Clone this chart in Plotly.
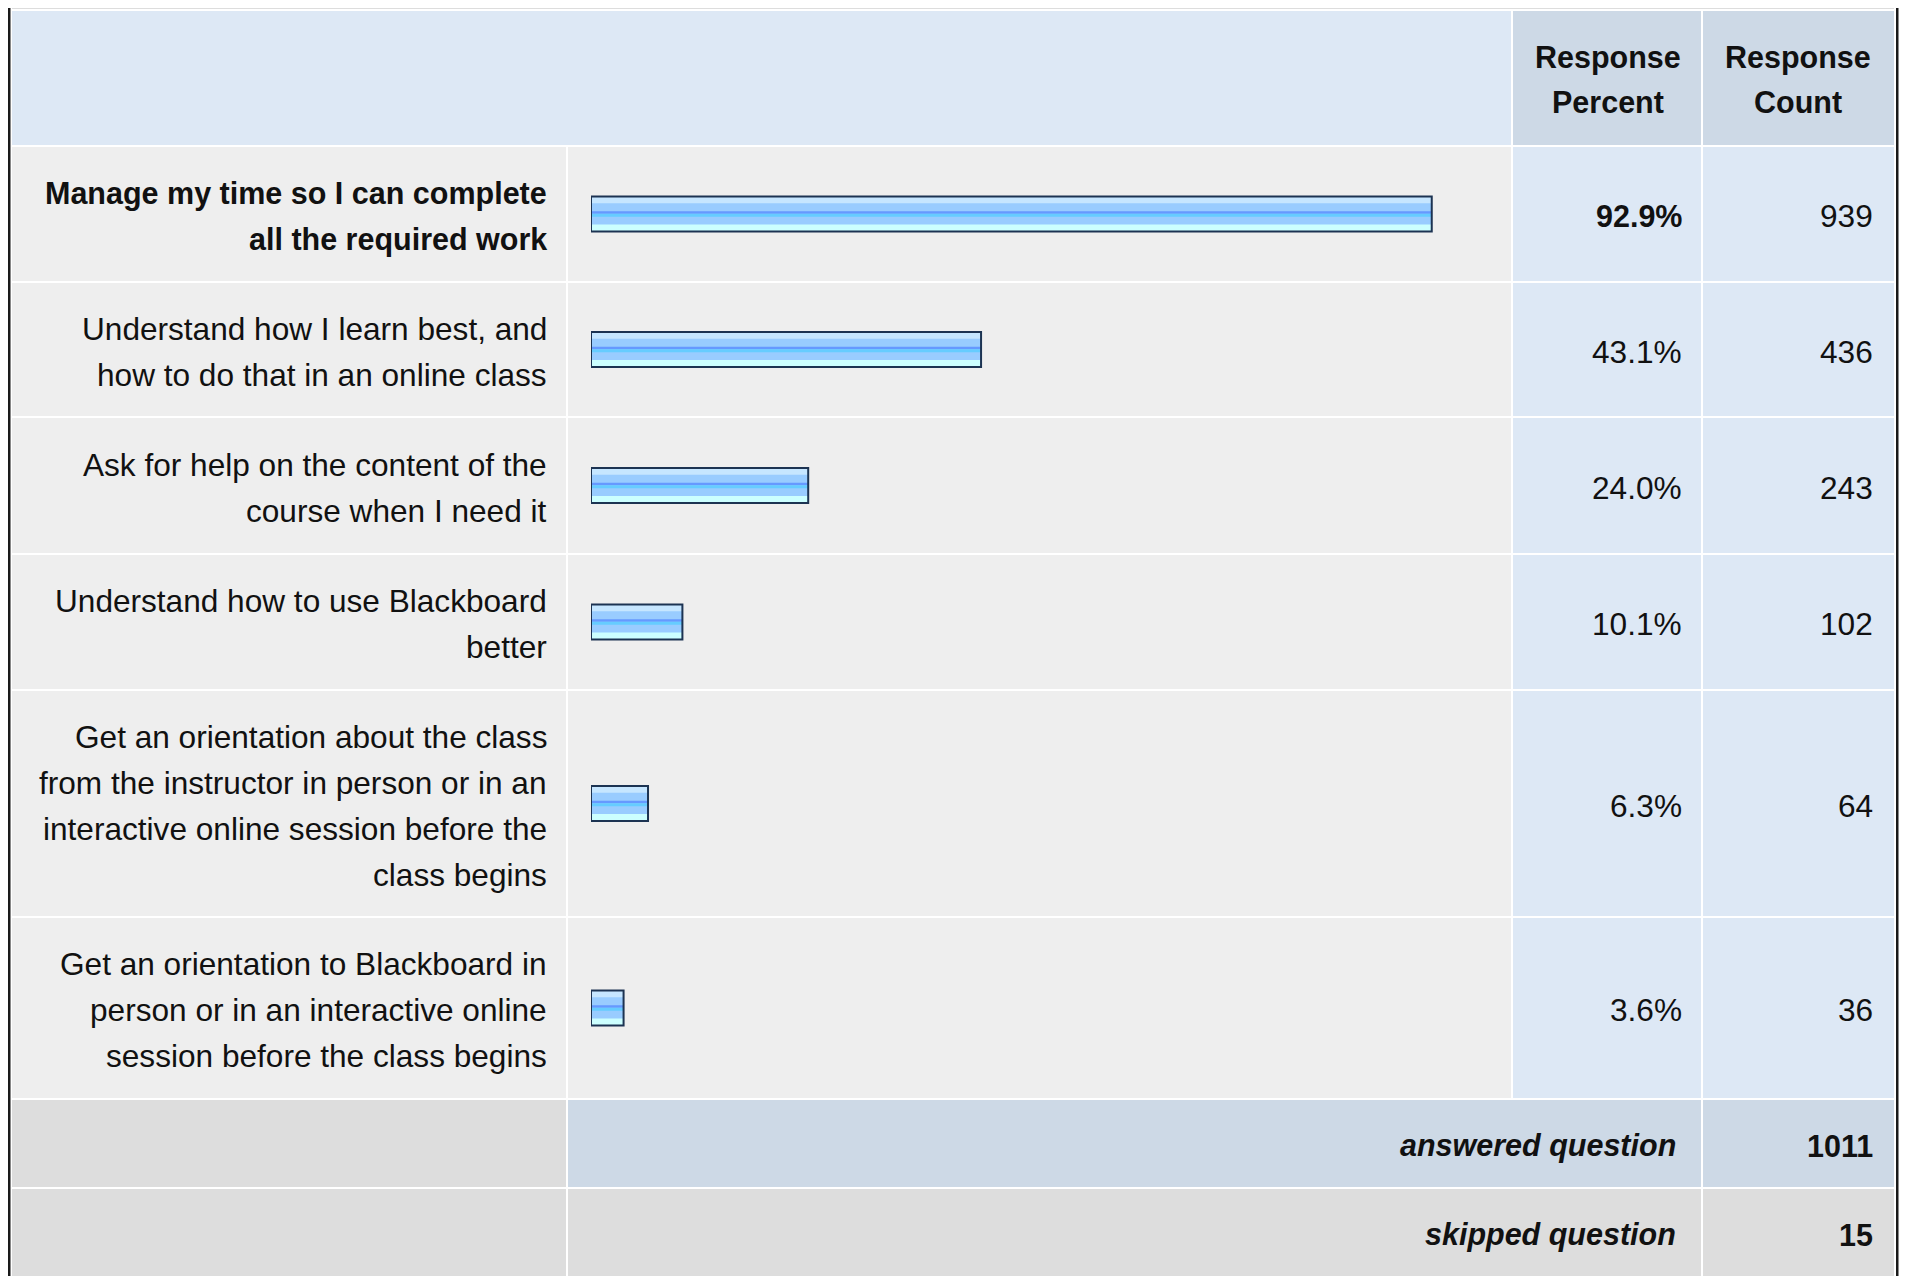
import plotly.graph_objects as go

# ---------------- data ----------------
categories = [
    "Manage my time so I can complete<br>all the required work",
    "Understand how I learn best, and<br>how to do that in an online class",
    "Ask for help on the content of the<br>course when I need it",
    "Understand how to use Blackboard<br>better",
    "Get an orientation about the class<br>from the instructor in person or in an<br>interactive online session before the<br>class begins",
    "Get an orientation to Blackboard in<br>person or in an interactive online<br>session before the class begins",
]
percents = [92.9, 43.1, 24.0, 10.1, 6.3, 3.6]
counts = [939, 436, 243, 102, 64, 36]
header_percent = "Response<br>Percent"
header_count = "Response<br>Count"
answered_label = "answered question"
answered_count = 1011
skipped_label = "skipped question"
skipped_count = 15

# ---------------- layout geometry (screen pixels) ----------------
OFF = 8                        # default page (body) margin
W, H = 1909 - OFF, 1276 - OFF  # figure size
row_edges = [11, 145, 281, 416, 553, 689, 916, 1098, 1187, 1290]  # header, 6 rows, answered, skipped
col_edges = [12, 566, 1511, 1701, 1894]
GAP = 2
FONT = "Liberation Sans, Arial, Helvetica, sans-serif"
FS = 31.6
FSB = 30.5
LINE_H = 46
TXT = "#111111"
BAR_H = 35
TX = 3.5   # text shift to the right (annotation padding compensation)

C_LABEL = "#eeeeee"
C_LIGHTBLUE = "#dde8f5"
C_HEADBLUE = "#cdd9e6"
C_GRAY = "#dddddd"

def px(x):
    return (x - OFF) / W

fig = go.Figure()
shapes = []
annotations = []

def cell(x0, x1, y0, y1, color):
    shapes.append(dict(type="rect", xref="paper", yref="y",
                       x0=px(x0), x1=px(x1), y0=y0, y1=y1,
                       fillcolor=color, line=dict(width=0), layer="below"))

def text(x, y, s, anchor="right", bold=False, italic=False):
    if italic:
        s = "<i>" + s + "</i>"
    if bold:
        s = "<b>" + s + "</b>"
    if anchor == "right":
        x = x + TX
    annotations.append(dict(xref="paper", yref="y", x=px(x), y=y, text=s,
                            showarrow=False, xanchor=anchor, yanchor="middle",
                            font=dict(family=FONT, size=FSB if bold else FS, color=TXT)))

# outer frame
cell(col_edges[0], col_edges[-1], 0, row_edges[0] - GAP, C_GRAY)
cell(8, 10, 0, 1300, "#1a1a1a")
cell(10, 11, 0, 1300, "#888888")
cell(1896, 1898.5, 0, 1300, "#1a1a1a")

# header row
y0, y1 = row_edges[0], row_edges[1]
cell(col_edges[0], col_edges[2], y0, y1, C_LIGHTBLUE)
cell(col_edges[2] + GAP, col_edges[3], y0, y1, C_HEADBLUE)
cell(col_edges[3] + GAP, col_edges[4], y0, y1, C_HEADBLUE)
for i, s in enumerate(header_percent.split("<br>")):
    text(1608, 57 + i * 45, s, anchor="center", bold=True)
for i, s in enumerate(header_count.split("<br>")):
    text(1798, 57 + i * 45, s, anchor="center", bold=True)

# data rows
centers = []
for r in range(len(categories)):
    y0, y1 = row_edges[r + 1] + GAP, row_edges[r + 2]
    c = (y0 + y1) / 2
    centers.append(c)
    cell(col_edges[0], col_edges[1], y0, y1, C_LABEL)
    cell(col_edges[1] + GAP, col_edges[2], y0, y1, C_LABEL)
    cell(col_edges[2] + GAP, col_edges[3], y0, y1, C_LIGHTBLUE)
    cell(col_edges[3] + GAP, col_edges[4], y0, y1, C_LIGHTBLUE)
    lines = categories[r].split("<br>")
    n = len(lines)
    bold = (r == 0)
    for k, s in enumerate(lines):
        text(545, c + 2 + (k - (n - 1) / 2) * LINE_H, s, bold=bold)
    text(1680, c + 2, f"{percents[r]:.1f}%", bold=bold)
    text(1871, c + 2, f"{counts[r]}")

# answered row
y0, y1 = row_edges[7] + GAP, row_edges[8]
c = (y0 + y1) / 2
cell(col_edges[0], col_edges[1], y0, y1, C_GRAY)
cell(col_edges[1] + GAP, col_edges[3], y0, y1, C_HEADBLUE)
cell(col_edges[3] + GAP, col_edges[4], y0, y1, C_HEADBLUE)
text(1674, c + 2, answered_label, bold=True, italic=True)
text(1871, c + 2, f"{answered_count}", bold=True)

# skipped row
y0, y1 = row_edges[8] + GAP, row_edges[9]
c = (y0 + 1276) / 2 + 2
cell(col_edges[0], col_edges[1], y0, y1, C_GRAY)
cell(col_edges[1] + GAP, col_edges[3], y0, y1, C_GRAY)
cell(col_edges[3] + GAP, col_edges[4], y0, y1, C_GRAY)
text(1674, c, skipped_label, bold=True, italic=True)
text(1871, c, f"{skipped_count}", bold=True)

# ---------------- bars ----------------
def bar(color, f0, f1, line=None):
    fig.add_trace(go.Bar(
        x=percents, y=centers, orientation="h",
        width=(f1 - f0) * BAR_H, offset=-BAR_H / 2 + f0 * BAR_H,
        marker=dict(color=color,
                    line=dict(color=line or "rgba(0,0,0,0)", width=2 if line else 0)),
        hoverinfo="skip", showlegend=False))

bar("#99ccff", 0.0, 1.0)
bar("#c6e6ff", 0.0, 0.19)
bar("#6699ff", 0.42, 0.49)
bar("#66ccff", 0.49, 0.575)
bar("#ccffff", 0.80, 1.0)
bar("rgba(0,0,0,0)", 0.0, 1.0, line="#1c3352")

fig.update_layout(
    width=W, height=H,
    margin=dict(l=0, r=0, t=0, b=0),
    paper_bgcolor="white", plot_bgcolor="rgba(0,0,0,0)",
    barmode="overlay",
    xaxis=dict(domain=[px(591), px(1496)], range=[0, 100], visible=False, fixedrange=True),
    yaxis=dict(domain=[0, 1], range=[OFF + H, OFF], visible=False, fixedrange=True),
    shapes=shapes, annotations=annotations,
    font=dict(family=FONT),
)

fig.write_html("out.html")
